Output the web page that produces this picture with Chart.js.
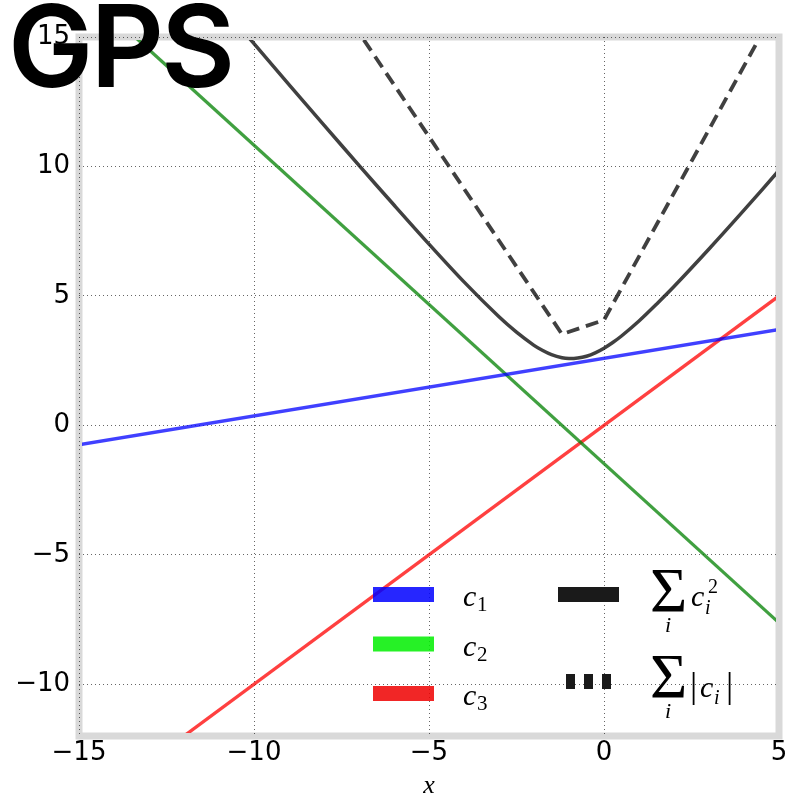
<!DOCTYPE html>
<html>
<head>
<meta charset="utf-8">
<script src="https://cdn.jsdelivr.net/npm/chart.js@4.4.0/dist/chart.umd.min.js"></script>
<style>
  body { margin: 0; background: #fff; }
  #wrap { position: relative; width: 792px; height: 799px; }
  #title {
    position: absolute; left: 8px; top: -11px;
    font-family: Inter, sans-serif; font-weight: 600; font-size: 114px;
    line-height: 114px; letter-spacing: -3px; color: #000;
  }
</style>
</head>
<body>
<div id="wrap">
  <canvas id="myChart" width="792" height="799"></canvas>
  <div id="title">GPS</div>
</div>
<script>
// --- Data ---
const lineX = [-15, 5];
const c1Vals = [-0.75, 3.7];
const c2Vals = [16.97, -7.63];
const c3Vals = [-15, 5];

const sqX = [-11, -10, -9, -8, -7, -6, -5, -4, -3, -2.5, -2, -1.75, -1.5, -1.2, -1, -0.75, -0.5, -0.25, 0, 0.25, 0.5, 1, 1.5, 2, 3, 4, 5];
const sqVals = [16.32, 14.74, 13.16, 11.6, 10.04, 8.51, 7.0, 5.54, 4.19, 3.6, 3.09, 2.89, 2.73, 2.61, 2.58, 2.6, 2.67, 2.8, 2.98, 3.2, 3.45, 4.03, 4.68, 5.36, 6.81, 8.31, 9.85];

const absX = [-7.5, -1.2, 0, 5];
const absVals = [16.17, 3.52, 4.07, 16.33];

const xTicks = [-15, -10, -5, 0, 5];
const yTicks = [-10, -5, 0, 5, 10, 15];

const legendColors = ['rgba(0,0,255,0.85)', 'rgba(0,238,0,0.85)', 'rgba(238,0,0,0.85)'];

const pts = (xs, ys) => xs.map((x, i) => ({ x: x, y: ys[i] }));
const fmt = v => v < 0 ? '\u2212' + Math.abs(v) : String(v);

// --- Plugins ---
const framePlugin = {
  id: 'frame',
  beforeDraw(chart) {
    const { ctx, chartArea: a } = chart;
    ctx.save();
    ctx.strokeStyle = '#d9d9d9';
    ctx.lineWidth = 7;
    ctx.strokeRect(a.left, a.top, a.right - a.left, a.bottom - a.top);
    ctx.restore();
  }
};

const mathLegend = {
  id: 'mathLegend',
  afterDraw(chart) {
    const ctx = chart.ctx;
    ctx.save();
    ctx.textBaseline = 'alphabetic';
    // left column: c1, c2, c3
    legendColors.forEach((col, i) => {
      const top = 587 + i * 49.5;
      ctx.fillStyle = col;
      ctx.fillRect(373, top, 61, 15);
      ctx.fillStyle = '#000';
      ctx.font = 'italic 30px "Liberation Serif"';
      ctx.fillText('c', 463, top + 19);
      ctx.font = '21px "Liberation Serif"';
      ctx.fillText(String(i + 1), 477, top + 24);
    });
    // right column
    ctx.fillStyle = '#1a1a1a';
    ctx.fillRect(558, 587, 61, 15);
    [566, 584, 602].forEach(x => ctx.fillRect(x, 674, 9, 15));

    ctx.fillStyle = '#000';
    // sum c_i^2
    ctx.font = '64px "Liberation Serif"';
    ctx.fillText('\u03A3', 650, 612);
    ctx.font = 'italic 22px "Liberation Serif"';
    ctx.fillText('i', 665, 632);
    ctx.font = 'italic 30px "Liberation Serif"';
    ctx.fillText('c', 691, 606);
    ctx.font = 'italic 20px "Liberation Serif"';
    ctx.fillText('i', 705, 614);
    ctx.font = '20px "Liberation Serif"';
    ctx.fillText('2', 708, 593);
    // sum |c_i|
    ctx.font = '64px "Liberation Serif"';
    ctx.fillText('\u03A3', 650, 698);
    ctx.font = 'italic 22px "Liberation Serif"';
    ctx.fillText('i', 665, 718);
    ctx.font = '36px "Liberation Serif"';
    ctx.fillText('|', 690, 697);
    ctx.font = 'italic 30px "Liberation Serif"';
    ctx.fillText('c', 700, 697);
    ctx.font = 'italic 20px "Liberation Serif"';
    ctx.fillText('i', 714, 704);
    ctx.font = '36px "Liberation Serif"';
    ctx.fillText('|', 726, 697);
    ctx.restore();
  }
};

// --- Chart ---
const ctx = document.getElementById('myChart').getContext('2d');

const base = { showLine: true, pointRadius: 0, fill: false, clip: -3 };

const chart = new Chart(ctx, {
  type: 'scatter',
  data: {
    datasets: [
      { ...base, label: 'c1', data: pts(lineX, c1Vals), borderColor: 'rgba(0,0,255,0.75)', borderWidth: 3.3 },
      { ...base, label: 'c2', data: pts(lineX, c2Vals), borderColor: 'rgba(0,128,0,0.75)', borderWidth: 3.3 },
      { ...base, label: 'c3', data: pts(lineX, c3Vals), borderColor: 'rgba(255,0,0,0.75)', borderWidth: 3.3 },
      { ...base, label: 'sum sq', data: pts(sqX, sqVals), borderColor: 'rgba(0,0,0,0.75)', borderWidth: 3.5, tension: 0.3 },
      { ...base, label: 'sum abs', data: pts(absX, absVals), borderColor: 'rgba(0,0,0,0.75)', borderWidth: 3.8, borderDash: [13, 7] }
    ]
  },
  options: {
    responsive: false,
    animation: false,
    layout: { padding: { top: 37, right: 13, left: 0, bottom: 0 } },
    plugins: { legend: { display: false }, tooltip: { enabled: false } },
    scales: {
      x: {
        type: 'linear', min: -15, max: 5,
        afterBuildTicks: s => { s.ticks = xTicks.map(v => ({ value: v })); },
        afterFit: s => { s.height = 63; },
        grid: {
          drawTicks: false,
          color: c => (c.tick && c.tick.value === 5) ? 'rgba(0,0,0,0)' : 'rgba(0,0,0,0.6)',
          lineWidth: 1
        },
        border: { display: false, dash: [1, 3] },
        ticks: { padding: 2, color: '#000', font: { family: 'DejaVu Sans', size: 26 }, callback: fmt, maxRotation: 0 },
        title: { display: true, text: 'x', color: '#000', padding: 0,
                 font: { family: 'Liberation Serif', style: 'italic', size: 26, lineHeight: 1 } }
      },
      y: {
        type: 'linear', min: -12, max: 15,
        afterBuildTicks: s => { s.ticks = yTicks.map(v => ({ value: v })); },
        afterFit: s => { s.width = 79; },
        grid: { drawTicks: false, color: 'rgba(0,0,0,0.6)', lineWidth: 1 },
        border: { display: false, dash: [1, 3] },
        ticks: { padding: 9, color: '#000', font: { family: 'DejaVu Sans', size: 26 }, callback: fmt }
      }
    }
  },
  plugins: [framePlugin, mathLegend]
});
</script>
</body>
</html>
